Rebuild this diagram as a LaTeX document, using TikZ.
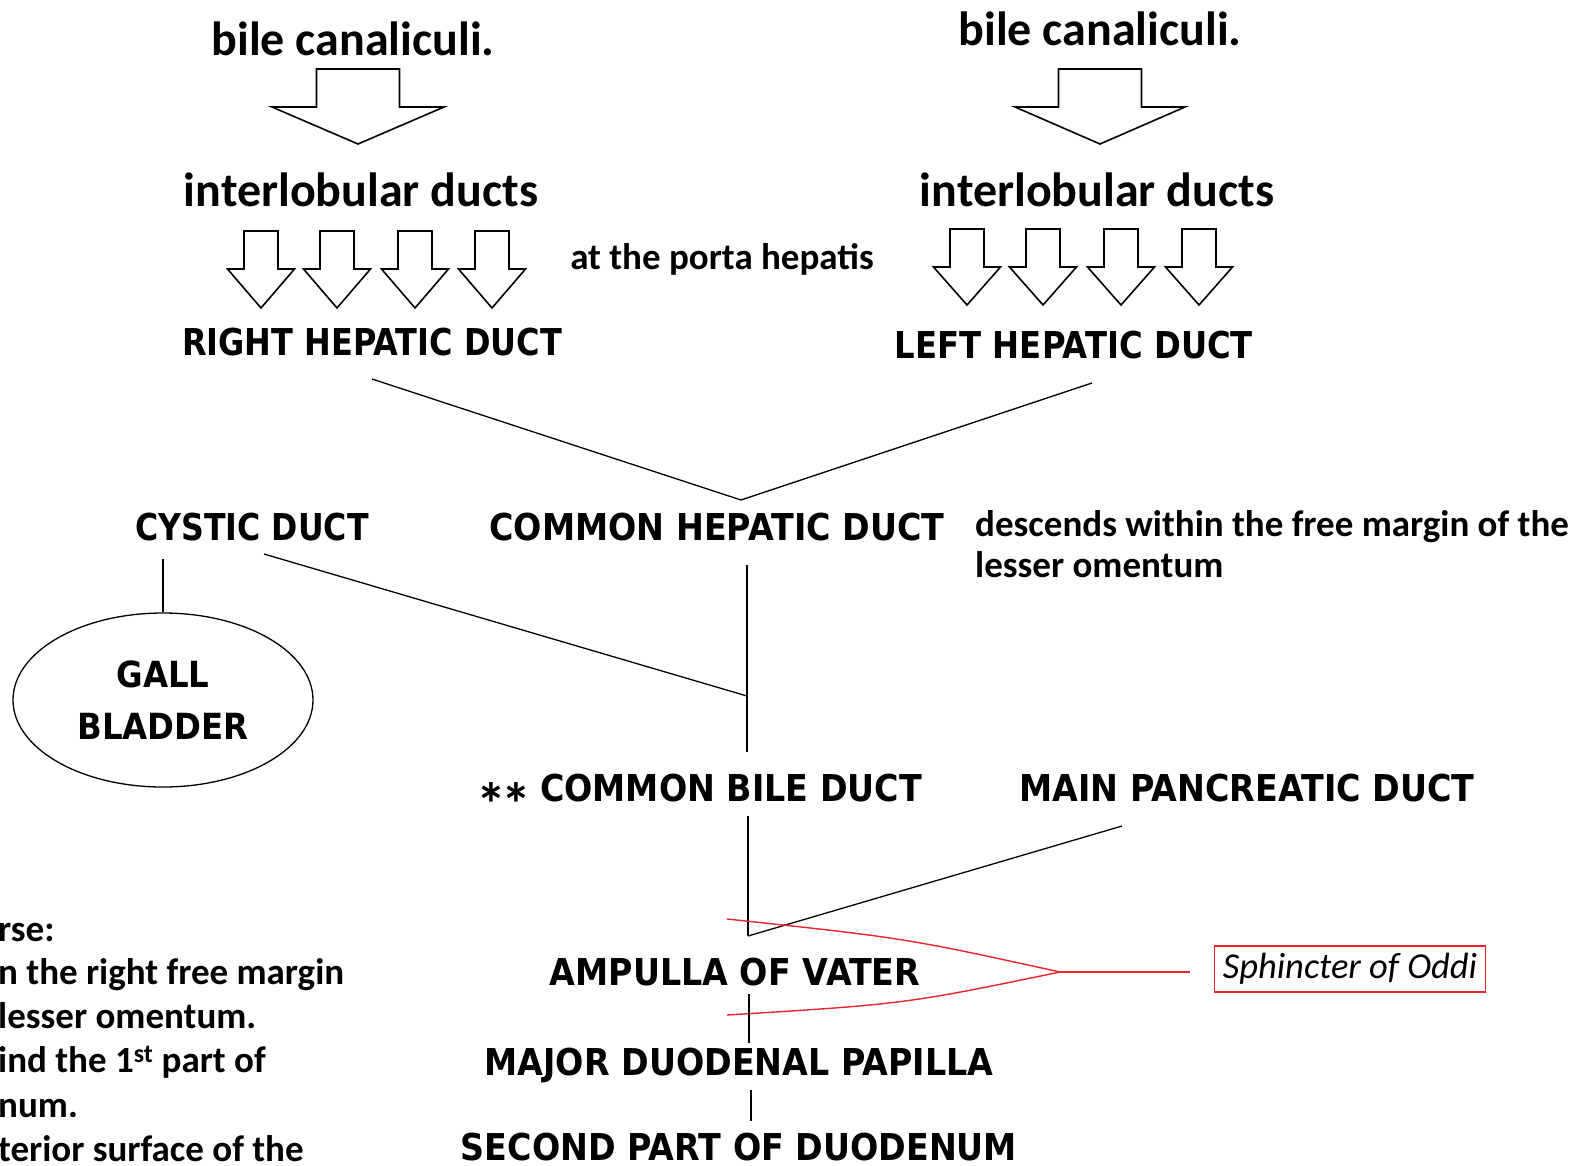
\documentclass[tikz,border=0pt]{standalone}
\usepackage{fontspec}
\setmainfont{Carlito}
\newfontfamily\capsf[FakeStretch=0.9]{DejaVu Sans}
\usetikzlibrary{shapes.geometric}
\definecolor{oddired}{RGB}{232,36,44}
\newcommand\flowarrow[7]{% cx, half shaft, half head, top, base, tip, name
  \draw[harrow] ({#1-#2},#4) -- ({#1+#2},#4) -- ({#1+#2},#5) -- ({#1+#3},#5) -- (#1,#6) -- ({#1-#3},#5) -- ({#1-#2},#5) -- cycle;
  \coordinate (#7) at (#1,#6);}
\begin{document}
\begin{tikzpicture}[x=1pt,y=-1pt,
  lbl/.style={inner sep=0pt,anchor=base,font=\bfseries\fontsize{48}{56}\selectfont},
  capl/.style={inner sep=0pt,font=\capsf\bfseries\fontsize{37}{44}\selectfont},
  note/.style={inner sep=0pt,anchor=base west,font=\bfseries\fontsize{37}{44}\selectfont},
  duct/.style={line width=1.3pt},
  harrow/.style={draw,line width=1.6pt,fill=white,line join=miter},
  oddi/.style={draw=oddired,line width=1.4pt},
]
\fill[white] (0,0) rectangle (1593,1165);
\useasboundingbox (0,0) rectangle (1593,1165);

% top labels
\node[lbl] (bcL) at (353,55) {bile canaliculi.};
\node[lbl] (bcR) at (1100,45) {bile canaliculi.};
\flowarrow{358}{41.5}{86}{69}{107}{144}{bigL}
\flowarrow{1100}{41.5}{85}{69}{107}{144}{bigR}
\node[lbl] (ilL) at (361,206) {interlobular ducts};
\node[lbl] (ilR) at (1097,206) {interlobular ducts};

% small arrows
\foreach \c [count=\i] in {261,337,415,492}{\flowarrow{\c}{17}{33.5}{231}{269}{308}{sl\i}}
\foreach \c [count=\i] in {967,1043,1121,1199}{\flowarrow{\c}{17}{33.5}{229}{267}{305}{sr\i}}
\node[inner sep=0pt,anchor=base,font=\bfseries\fontsize{37}{44}\selectfont] (porta) at (722,269) {at the porta hepatis};

% hepatic ducts
\node[capl] (rhd) at (372,342) {\scalebox{0.96}[1]{RIGHT HEPATIC DUCT}};
\node[capl] (lhd) at (1074,345) {\scalebox{0.97}[1]{LEFT HEPATIC DUCT}};
\coordinate (rhdS) at (372,379);
\coordinate (lhdS) at (1092,383);
\coordinate (chdN) at (741,500);
\draw[duct] (rhdS) -- (chdN) -- (lhdS);

% cystic / common hepatic
\node[capl] (cyd) at (252,527) {\scalebox{0.95}[1]{CYSTIC DUCT}};
\node[capl] (chd) at (717,527) {COMMON HEPATIC DUCT};
\node[note] (desc1) at (975,536) {descends within the free margin of the};
\node[note] (desc2) at (975,577) {lesser omentum};
\node[ellipse,draw,line width=1.3pt,minimum width=300,minimum height=174,inner sep=0pt,align=center,
      font=\capsf\bfseries\fontsize{36}{52}\selectfont] (gb) at (163,700) {GALL\\BLADDER};
\coordinate (cydS) at (163,559);
\draw[duct] (cydS) -- (gb.north);
\coordinate (cydE) at (264,554);
\coordinate (junc) at (747,696);
\draw[duct] (cydE) -- (junc);
\coordinate (chdS) at (747,565);
\coordinate (chdE) at (747,752);
\draw[duct] (chdS) -- (chdE);

% common bile duct / pancreatic
\node[inner sep=0pt,anchor=base,font=\bfseries\fontsize{60}{66}\selectfont] (ast) at (504,825) {*\kern-5pt*};
\node[capl] (cbd) at (731,788) {COMMON BILE DUCT};
\node[capl] (mpd) at (1247,788) {MAIN PANCREATIC DUCT};
\coordinate (cbdS) at (748,816);
\coordinate (ampN) at (748,936);
\draw[duct] (cbdS) -- (ampN);
\coordinate (mpdS) at (1122,826);
\draw[duct] (mpdS) -- (ampN);

% ampulla and sphincter
\node[capl] (amp) at (735,972) {AMPULLA OF VATER};
\coordinate (sphT) at (727,919);
\coordinate (sphB) at (727,1015);
\coordinate (sphTip) at (1060,972);
\coordinate (sphL) at (1190,972);
\draw[oddi] (sphT) .. controls (905,938) .. (sphTip) .. controls (905,1004) .. (sphB);
\draw[oddi] (sphTip) -- (sphL);
\node[oddi,minimum width=271,minimum height=46,inner sep=0pt,font=\itshape\fontsize{36.5}{40}\selectfont] (sph) at (1350,969) {Sphincter of Oddi};

\node[capl] (mdp) at (739,1065) {MAJOR DUODENAL PAPILLA};
\node[capl] (spd) at (739,1147) {SECOND PART OF DUODENUM};
\coordinate (ampS) at (749,994);
\coordinate (mdpN) at (749,1043);
\draw[duct] (ampS) -- (mdpN);
\coordinate (mdpS) at (751,1090);
\coordinate (spdN) at (751,1121);
\draw[duct] (mdpS) -- (spdN);

% left notes (clipped in the original)
\node[note] (n1) at (-2,941) {rse:};
\node[note] (n2) at (-2,984) {n the right free margin};
\node[note] (n3) at (-2,1028) {lesser omentum.};
\node[note] (n4) at (-2,1072) {ind the 1\textsuperscript{st} part of};
\node[note] (n5) at (-2,1117) {num.};
\node[note] (n6) at (-2,1161) {terior surface of the};
\end{tikzpicture}
\end{document}
